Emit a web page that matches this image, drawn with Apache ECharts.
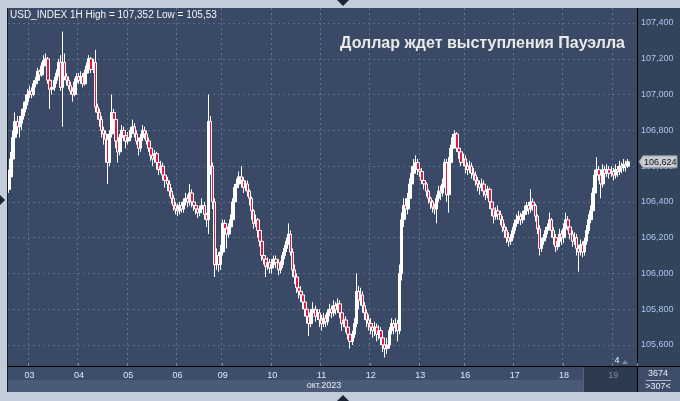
<!DOCTYPE html>
<html><head><meta charset="utf-8">
<script src="https://cdn.jsdelivr.net/npm/echarts@6/dist/echarts.min.js"></script>
<style>html,body{margin:0;padding:0;background:#c3cdd9;}#c{width:680px;height:401px;}</style>
</head><body><div id="c"></div>
<script>
// ---- data (USD_INDEX, 1H candles, Oct 2023) ----
const days = ['02','03','04','05','06','09','10','11','12','13','16','17','18','19'];
const barsPerDay = [10,24,24,24,22,24,24,24,24,22,24,24,24,8];
const firstOpen = 106.47;
const closes = [
 106.54,106.64,106.76,106.85,106.82,106.84,106.88,106.92,106.96,107.00,
 107.02,107.00,107.06,107.08,107.13,107.11,107.16,107.19,107.20,107.08,107.03,107.04,107.08,107.12,107.18,107.04,107.18,107.10,107.08,107.05,107.02,107.00,107.07,107.10,
 107.08,107.10,107.06,107.12,107.16,107.20,107.14,107.18,106.93,106.90,106.86,106.80,106.78,106.75,106.62,106.78,106.90,106.86,106.74,106.68,106.76,106.80,106.77,106.74,
 106.76,106.80,106.82,106.78,106.74,106.70,106.76,106.80,106.78,106.74,106.70,106.66,106.64,106.67,106.62,106.58,106.60,106.55,106.52,106.50,106.46,106.42,106.38,106.36,
 106.35,106.38,106.36,106.40,106.42,106.40,106.45,106.40,106.38,106.36,106.34,106.36,106.38,106.33,106.30,106.85,106.60,106.40,106.05,106.10,106.05,106.12,
 106.28,106.25,106.22,106.26,106.30,106.40,106.48,106.50,106.54,106.52,106.48,106.50,106.46,106.42,106.35,106.28,106.30,106.24,106.18,106.10,106.08,106.04,106.06,106.03,
 106.05,106.08,106.06,106.02,106.05,106.10,106.14,106.18,106.22,106.12,106.02,105.98,105.92,105.90,105.88,105.84,105.80,105.76,105.72,105.78,105.80,105.76,105.78,105.74,
 105.72,105.75,105.73,105.78,105.80,105.78,105.82,105.80,105.83,105.78,105.72,105.74,105.70,105.66,105.62,105.66,105.72,105.90,105.85,105.88,105.82,105.78,105.74,105.72,
 105.70,105.68,105.70,105.66,105.68,105.64,105.60,105.58,105.60,105.68,105.72,105.70,105.72,105.68,106.00,106.30,106.38,106.36,106.42,106.50,106.56,106.60,106.62,106.58,
 106.57,106.52,106.50,106.46,106.42,106.40,106.37,106.36,106.42,106.46,106.45,106.50,106.62,106.44,106.62,106.70,106.76,106.78,106.70,106.68,106.62,106.64,
 106.60,106.58,106.60,106.56,106.55,106.52,106.50,106.48,106.50,106.46,106.44,106.47,106.40,106.36,106.32,106.35,106.33,106.30,106.26,106.24,106.20,106.18,106.20,106.24,
 106.28,106.30,106.32,106.30,106.33,106.35,106.38,106.36,106.40,106.38,106.32,106.25,106.14,106.18,106.20,106.24,106.26,106.30,106.24,106.20,106.15,106.18,106.22,106.20,
 106.25,106.30,106.26,106.22,106.18,106.20,106.14,106.12,106.16,106.12,106.18,106.24,106.30,106.35,106.45,106.55,106.58,106.55,106.50,106.58,106.56,106.58,106.56,106.57,
 106.55,106.58,106.57,106.60,106.59,106.61,106.60,106.624
];
const highs = [
 106.58,106.68,106.80,106.90,106.88,106.88,106.92,106.96,107.00,107.03,
 107.05,107.04,107.08,107.10,107.15,107.14,107.18,107.22,107.23,107.21,107.09,107.06,107.10,107.14,107.20,107.22,107.352,107.23,107.12,107.10,107.07,107.04,107.09,107.12,
 107.12,107.13,107.12,107.14,107.18,107.22,107.21,107.20,107.25,106.95,106.92,106.88,106.82,106.80,106.78,106.80,107.00,106.92,106.88,106.76,106.78,106.83,106.82,106.79,
 106.79,106.82,106.86,106.84,106.80,106.76,106.78,106.83,106.82,106.80,106.76,106.72,106.68,106.69,106.68,106.64,106.63,106.62,106.56,106.54,106.52,106.48,106.44,106.40,
 106.39,106.40,106.40,106.42,106.45,106.44,106.50,106.47,106.42,106.40,106.38,106.38,106.42,106.40,106.34,107.00,106.88,106.62,106.42,106.14,106.12,106.16,
 106.30,106.30,106.27,106.28,106.33,106.42,106.50,106.53,106.57,106.60,106.54,106.52,106.52,106.47,106.43,106.36,106.33,106.31,106.26,106.20,106.12,106.10,106.09,106.08,
 106.08,106.10,106.10,106.08,106.07,106.12,106.16,106.20,106.28,106.24,106.14,106.05,106.00,105.95,105.93,105.90,105.86,105.82,105.78,105.80,105.84,105.82,105.80,105.80,
 105.77,105.78,105.77,105.80,105.83,105.82,105.85,105.84,105.86,105.85,105.80,105.77,105.76,105.72,105.68,105.68,105.75,106.00,105.93,105.92,105.90,105.84,105.80,105.77,
 105.75,105.72,105.73,105.72,105.71,105.70,105.66,105.62,105.64,105.70,105.75,105.74,105.75,105.74,106.05,106.34,106.42,106.42,106.45,106.53,106.60,106.64,106.66,106.64,
 106.61,106.59,106.54,106.51,106.47,106.43,106.41,106.39,106.44,106.49,106.49,106.53,106.64,106.64,106.65,106.72,106.78,106.80,106.79,106.72,106.70,106.67,
 106.66,106.62,106.63,106.62,106.59,106.57,106.54,106.52,106.53,106.52,106.48,106.49,106.48,106.42,106.38,106.37,106.38,106.35,106.32,106.28,106.26,106.23,106.22,106.26,
 106.30,106.33,106.35,106.34,106.35,106.38,106.40,106.40,106.47,106.42,106.39,106.33,106.27,106.20,106.22,106.26,106.28,106.34,106.31,106.26,106.22,106.20,106.25,106.24,
 106.28,106.34,106.32,106.28,106.24,106.23,106.22,106.16,106.19,106.18,106.20,106.27,106.33,106.38,106.48,106.58,106.65,106.60,106.57,106.61,106.60,106.61,106.60,106.60,
 106.59,106.61,106.60,106.63,106.62,106.64,106.63,106.64
];
const lows = [
 106.45,106.52,106.62,106.74,106.78,106.76,106.80,106.86,106.90,106.94,
 106.98,106.98,106.99,107.04,107.06,107.09,107.10,107.14,107.17,107.06,106.92,107.00,107.02,107.06,107.10,107.02,106.82,107.08,107.05,107.03,107.00,106.96,106.99,107.05,
 107.06,107.06,107.04,107.05,107.10,107.14,107.12,107.12,106.90,106.86,106.82,106.76,106.72,106.62,106.50,106.60,106.76,106.82,106.70,106.62,106.66,106.74,106.74,106.70,
 106.72,106.74,106.78,106.76,106.72,106.66,106.68,106.74,106.75,106.72,106.68,106.63,106.60,106.62,106.58,106.55,106.56,106.52,106.48,106.46,106.43,106.39,106.35,106.33,
 106.32,106.33,106.34,106.34,106.38,106.37,106.38,106.37,106.35,106.33,106.31,106.32,106.34,106.30,106.26,106.22,106.55,106.36,105.98,106.02,106.01,106.02,
 106.10,106.20,106.14,106.20,106.24,106.28,106.38,106.46,106.48,106.48,106.45,106.46,106.43,106.38,106.30,106.25,106.26,106.20,106.15,106.07,106.05,105.98,106.02,106.00,
 106.00,106.03,106.03,105.99,106.00,106.03,106.08,106.12,106.16,106.10,105.98,105.94,105.89,105.86,105.84,105.80,105.76,105.72,105.65,105.70,105.75,105.73,105.74,105.70,
 105.68,105.70,105.70,105.71,105.76,105.75,105.76,105.77,105.78,105.75,105.68,105.70,105.67,105.63,105.58,105.60,105.64,105.70,105.80,105.82,105.78,105.74,105.70,105.68,
 105.66,105.64,105.65,105.62,105.63,105.60,105.56,105.53,105.55,105.58,105.66,105.66,105.67,105.62,105.66,105.96,106.26,106.30,106.33,106.40,106.47,106.52,106.56,106.55,
 106.54,106.50,106.47,106.43,106.39,106.36,106.34,106.33,106.28,106.40,106.41,106.43,106.48,106.40,106.34,106.60,106.68,106.72,106.68,106.64,106.60,106.60,
 106.56,106.55,106.56,106.53,106.52,106.49,106.46,106.44,106.46,106.43,106.41,106.42,106.36,106.32,106.28,106.30,106.30,106.27,106.23,106.20,106.17,106.15,106.16,106.18,
 106.22,106.26,106.28,106.27,106.28,106.31,106.33,106.33,106.34,106.35,106.29,106.22,106.10,106.12,106.16,106.18,106.22,106.24,106.20,106.16,106.12,106.13,106.16,106.16,
 106.17,106.23,106.24,106.19,106.15,106.16,106.10,106.01,106.10,106.09,106.10,106.16,106.22,106.28,106.32,106.43,106.52,106.52,106.42,106.48,106.53,106.54,106.53,106.54,
 106.52,106.53,106.54,106.55,106.56,106.57,106.57,106.59
];
const yMin = 105.4, yMax = 107.5286, yStep = 0.2;
const headerText = 'USD_INDEX 1H High = 107,352 Low = 105,53';
const titleText = 'Доллар ждет выступления Пауэлла';
const monthText = 'окт.2023';
const barsTotal = '3674', barsVisible = '>307<';

// ---- build ----
const categories = [];
const dayStartIdx = [];
days.forEach((d, i) => {
  if (i > 0) dayStartIdx.push(categories.length);
  for (let h = 0; h < barsPerDay[i]; h++) categories.push(d + '|' + h);
});
const ohlc = closes.map((c, i) => {
  const o = i ? closes[i - 1] : firstOpen;
  return [o, c, Math.min(lows[i], o, c), Math.max(highs[i], o, c)];
});
const FONT = 'Liberation Sans, Arial, sans-serif';
const FRAME = '#c3cdd9';
const GRIDC = '#5a6984';
const VGRIDC = '#63728d';
const isDayStart = (idx, val) => {
  const v = (val != null) ? String(val) : categories[idx];
  return typeof v === 'string' && v.endsWith('|0') && !v.startsWith('02');
};
const fmt = v => v.toFixed(3).replace('.', ',');

const chart = echarts.init(document.getElementById('c'), null, {renderer: 'canvas', width: 680, height: 401});
chart.setOption({
  animation: false,
  backgroundColor: FRAME,
  grid: {left: 8, right: 43, top: 0, bottom: 20.22, containLabel: false},
  xAxis: [
    {type: 'category', data: categories, max: 305, boundaryGap: true, position: 'bottom',
     axisLine: {show: false}, axisTick: {show: false}, axisLabel: {show: false}, splitLine: {show: false}},
    {type: 'category', data: categories, max: 305, boundaryGap: true, position: 'bottom', offset: -14.78, z: 20,
     axisLine: {show: true, lineStyle: {color: '#000', width: 1}},
     axisTick: {show: true, inside: true, length: 3, interval: isDayStart, lineStyle: {color: '#7a879c'}},
     axisLabel: {show: true, interval: isDayStart, margin: 5, fontSize: 9, fontFamily: FONT,
       formatter: v => v ? v.split('|')[0] : '',
       color: v => (v && v.startsWith('19')) ? '#7d889c' : '#dfe8f5'},
     splitLine: {show: false}}
  ],
  yAxis: {type: 'value', position: 'right', min: yMin, max: yMax, interval: yStep,
    axisLine: {show: true, lineStyle: {color: '#000', width: 1}},
    axisTick: {show: false},
    axisLabel: {margin: 4, fontSize: 9, fontFamily: FONT, color: '#a9c7ee',
      formatter: v => (v < 105.5 || v > 107.45) ? '' : fmt(v)},
    splitLine: {show: true, lineStyle: {color: GRIDC, type: [2, 3], width: 1}}},
  series: [{
    type: 'candlestick', xAxisIndex: 0, data: ohlc, barWidth: 3,
    itemStyle: {color: '#ffffff', color0: '#e3173f', borderColor: '#ffffff', borderColor0: '#ffffff', borderWidth: 1}
  }],
  graphic: {elements: [
    {id: 'plotbg', type: 'rect', z: -10, silent: true, shape: {x: 8, y: 8, width: 629, height: 358}, style: {fill: '#3a4965'}},
    {id: 'axbg', type: 'rect', z: -10, silent: true, shape: {x: 638, y: 8, width: 42, height: 358}, style: {fill: '#34435c'}},
    {id: 'topf', type: 'rect', z: 10, shape: {x: 0, y: 0, width: 680, height: 8}, style: {fill: FRAME}},
    {id: 'leftf', type: 'rect', z: 10, shape: {x: 0, y: 0, width: 7, height: 401}, style: {fill: FRAME}},
    {id: 'leftl', type: 'rect', z: 10, shape: {x: 7, y: 8, width: 1, height: 384}, style: {fill: '#151c28'}},
    {id: 'band1', type: 'rect', z: 10, shape: {x: 8, y: 367, width: 629, height: 13}, style: {fill: '#3e4d69'}},
    {id: 'band2', type: 'rect', z: 10, shape: {x: 8, y: 380, width: 629, height: 12}, style: {fill: '#4b5a76'}},
    {id: 'hl19', type: 'rect', z: 11, shape: {x: 583, y: 367, width: 54, height: 25}, style: {fill: '#2d3a50'}},
    {id: 'hl19l', type: 'rect', z: 11, shape: {x: 583, y: 367, width: 1, height: 25}, style: {fill: '#56637a'}},
    {id: 'brbox', type: 'rect', z: 10, shape: {x: 638, y: 367, width: 42, height: 25}, style: {fill: '#3e4d69'}},
    {id: 'vsep', type: 'rect', z: 12, shape: {x: 637, y: 366, width: 1, height: 26}, style: {fill: '#000'}},
    {id: 'hsep', type: 'rect', z: 12, shape: {x: 637, y: 366, width: 43, height: 1}, style: {fill: '#000'}},
    {id: 'botf', type: 'rect', z: 10, shape: {x: 0, y: 392, width: 680, height: 9}, style: {fill: FRAME}},
    {id: 'triT', type: 'polygon', z: 12, shape: {points: [[337, 0], [349, 0], [343, 6]]}, style: {fill: '#1b2536'}},
    {id: 'triB', type: 'polygon', z: 12, shape: {points: [[337, 401], [349, 401], [343, 395]]}, style: {fill: '#1b2536'}},
    {id: 'triL', type: 'polygon', z: 12, shape: {points: [[0, 195], [0, 205], [5, 200]]}, style: {fill: '#1b2536'}},
    {id: 'hdr', type: 'text', z: 15, style: {text: headerText, x: 10, y: 15, fill: '#f4f6fa', font: '10px ' + FONT, textVerticalAlign: 'middle'}},
    {id: 'ttl', type: 'text', z: 15, style: {text: titleText, x: 625, y: 44, fill: '#e9e9e9', font: 'bold 16px ' + FONT, textAlign: 'right', textVerticalAlign: 'middle'}},
    {id: 'mon', type: 'text', z: 15, style: {text: monthText, x: 324, y: 386, fill: '#e6ecf5', font: '9px ' + FONT, textAlign: 'center', textVerticalAlign: 'middle'}},
    {id: 'tot', type: 'text', z: 15, style: {text: barsTotal, x: 658, y: 374, fill: '#e6ecf5', font: '9px ' + FONT, textAlign: 'center', textVerticalAlign: 'middle'}},
    {id: 'totl', type: 'rect', z: 15, shape: {x: 646, y: 380, width: 25, height: 1}, style: {fill: '#aab4c4'}},
    {id: 'vis', type: 'text', z: 15, style: {text: barsVisible, x: 658, y: 387, fill: '#e6ecf5', font: '9px ' + FONT, textAlign: 'center', textVerticalAlign: 'middle'}},
    {id: 'four', type: 'text', z: 15, style: {text: '4', x: 617, y: 361, fill: '#f0f0f0', font: '9px ' + FONT, textAlign: 'center', textVerticalAlign: 'middle'}},
    {id: 'fourT', type: 'polygon', z: 15, shape: {points: [[622, 364], [628, 364], [625, 360]]}, style: {fill: '#7f8aa0'}}
  ]}
});

// day separators positioned through the category axis scale
const px = v => chart.convertToPixel({xAxisIndex: 0}, v);
const half = (px(categories[1]) - px(categories[0])) / 2;
const extra = [];
dayStartIdx.forEach((i, k) => {
  const x = Math.floor(px(categories[i]) - half) + 0.5;
  extra.push({id: 'dl' + k, type: 'line', z: 1, silent: true,
    shape: {x1: x, y1: 8, x2: x, y2: 366},
    style: {stroke: VGRIDC, lineWidth: 1, lineDash: [2, 3]}});
});

const last = closes[closes.length - 1];
const py = chart.convertToPixel({yAxisIndex: 0}, last);
extra.push(
  {id: 'pl', type: 'polygon', z: 15, shape: {points: [[639, py], [643, py - 6], [677, py - 6], [677, py + 6], [643, py + 6]]}, style: {fill: '#c9cdd3', stroke: '#8e97a5', lineWidth: 1}},
  {id: 'plt', type: 'text', z: 16, style: {text: fmt(last), x: 644, y: py + 0.5, fill: '#111', font: '9px ' + FONT, textVerticalAlign: 'middle'}}
);
chart.setOption({graphic: {elements: extra}});
</script>
</body></html>
